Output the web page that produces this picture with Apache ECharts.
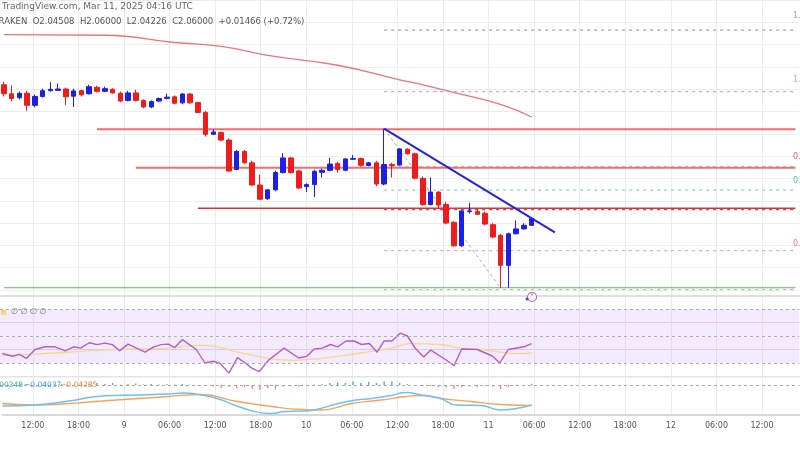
<!DOCTYPE html>
<html><head><meta charset="utf-8">
<script src="https://cdn.jsdelivr.net/npm/echarts@6/dist/echarts.min.js"></script>
<style>html,body{margin:0;padding:0;background:#fff}#c{width:800px;height:450px}</style>
</head><body><div id="c"></div>
<script>
// ---- data ----
const opens = [2.1840,2.1759,2.1724,2.1764,2.1656,2.1735,2.1787,2.1790,2.1802,2.1738,
2.1787,2.1759,2.1816,2.1781,2.1799,2.1764,2.1700,2.1767,2.1700,2.1641,
2.1694,2.1717,2.1732,2.1678,2.1757,2.1680,2.1592,2.1396,2.1411,2.1344,
2.1081,2.1242,2.1140,2.0941,2.0819,2.0898,2.1053,2.1184,2.1067,2.0927,
2.0945,2.1055,2.1073,2.1134,2.1073,2.1172,2.1178,2.1116,2.1140,2.0950,
2.1125,2.1120,2.1263,2.1221,2.1000,2.0766,2.0878,2.0766,2.0606,2.0396,
2.0703,2.0703,2.0688,2.0586,2.0490,2.0221,2.0504,2.0548,2.0580];
const closes = [2.1759,2.1717,2.1764,2.1656,2.1735,2.1787,2.1799,2.1802,2.1732,2.1785,
2.1750,2.1823,2.1781,2.1805,2.1767,2.1694,2.1767,2.1700,2.1641,2.1689,
2.1717,2.1729,2.1674,2.1757,2.1678,2.1592,2.1396,2.1417,2.1344,2.1067,
2.1242,2.1140,2.0941,2.0814,2.0898,2.1053,2.1184,2.1053,2.0915,2.0945,
2.1064,2.1073,2.1129,2.1081,2.1175,2.1178,2.1118,2.1140,2.0950,2.1125,
2.1116,2.1265,2.1221,2.1003,2.0766,2.0878,2.0761,2.0600,2.0396,2.0709,
2.0709,2.0679,2.0591,2.0475,2.0221,2.0504,2.0548,2.0580,2.0639];
const lows = [2.1735,2.1691,2.1709,2.1606,2.1639,2.1726,2.1779,2.1787,2.1659,2.1641,
2.1735,2.1753,2.1770,2.1774,2.1761,2.1683,2.1691,2.1691,2.1630,2.1630,
2.1687,2.1709,2.1665,2.1665,2.1669,2.1586,2.1376,2.1389,2.1333,2.1057,
2.1074,2.1131,2.0934,2.0808,2.0808,2.0886,2.1044,2.1044,2.0904,2.0878,
2.0834,2.1009,2.1066,2.1053,2.1066,2.1166,2.1105,2.1109,2.0930,2.0939,
2.1009,2.1114,2.1214,2.0991,2.0755,2.0759,2.0729,2.0589,2.0388,2.0388,
2.0685,2.0672,2.0580,2.0466,2.0017,2.0020,2.0497,2.0541,2.0576];
const highs = [2.1866,2.1834,2.1779,2.1787,2.1753,2.1805,2.1864,2.1851,2.1814,2.1805,
2.1796,2.1840,2.1831,2.1823,2.1809,2.1779,2.1787,2.1796,2.1709,2.1700,
2.1726,2.1761,2.1744,2.1766,2.1766,2.1687,2.1604,2.1442,2.1420,2.1359,
2.1254,2.1254,2.1158,2.1035,2.0904,2.1070,2.1228,2.1193,2.1079,2.0956,
2.1079,2.1088,2.1184,2.1149,2.1184,2.1210,2.1188,2.1149,2.1158,2.1446,
2.1140,2.1271,2.1271,2.1232,2.1018,2.1009,2.0886,2.0790,2.0615,2.0720,
2.0781,2.0720,2.0703,2.0598,2.0502,2.0514,2.0624,2.0598,2.0650];
const maIdx = [0,13,22,28,34,43,51,54,59,64,68];
const maVals = [2.2289,2.2284,2.2219,2.2184,2.2103,2.2015,2.1884,2.1840,2.1753,2.1665,2.1551];
const rsiX = [0.3,1.6,2.5,3.4,4.5,5.8,7.1,8.4,9.5,10.4,11.5,12.5,13.5,14.5,15.4,16.5,17.6,18.7,19.8,20.8,21.7,22.5,23.5,24.4,25.3,26.4,27.5,28.4,29.5,30.6,31.6,32.5,33.4,34.6,36.6,38.5,39.5,40.5,41.5,42.6,43.5,44.6,45.6,46.6,47.6,48.6,49.5,50.5,51.6,52.5,53.5,54.6,55.5,57.5,58.5,59.5,61.5,63.5,64.4,65.5,67.5,68.5];
const rsiVals = [37,35,36.4,33.4,40,42,42,39,42,41,45,43.6,44.7,43.6,39,44,41,38,42,43.6,44,41.4,47.3,43.6,40,30,31.3,29.5,22.5,34,30,26,23.6,32,41,33.7,34.9,40.4,41,43.7,42,46.3,46.3,43.7,44.4,38,46.3,46.3,52.2,50,41,34.4,39.6,32.2,28,40.4,40,35,30,40,42,44.4];
const rsiMaX = [0.3,4.5,13.1,21.7,26,31.1,35,37.6,41.4,46.5,50.4,53,56.8,59.4,62,64.5,67.1,68.5];
const rsiMaVals = [35.5,36.5,39.5,41,43,37.5,33,32,33.5,37.4,41,44.4,43.7,41,40,38,37,37.4];
const macdX = [0.3,4.5,8.9,13.1,17.4,21.7,23.7,26,28.2,30.2,32.8,35,36.7,39.2,40.5,43.6,45.9,47.8,50.4,52.3,54.3,56.8,58.8,62,64.5,66.5,68.5];
const macdVals = [-0.042,-0.040,-0.032,-0.022,-0.020,-0.018,-0.016,-0.020,-0.028,-0.040,-0.053,-0.057,-0.053,-0.052,-0.050,-0.037,-0.030,-0.027,-0.021,-0.015,-0.020,-0.027,-0.040,-0.041,-0.050,-0.047,-0.040];
const signalX = [0.3,4.5,13.1,21.7,26,30.2,35,38.8,41.4,45.3,49.1,52.3,54.3,56.8,60.7,64.5,68.5];
const signalVals = [-0.037,-0.040,-0.032,-0.023,-0.019,-0.032,-0.043,-0.049,-0.050,-0.037,-0.030,-0.023,-0.021,-0.027,-0.033,-0.039,-0.041];
const histVals = [0.0005,0.0005,0.0005,0.0005,0.0005,0.0005,0.0005,0.0005,0.0005,0.0005,
0.003,0.002,0.004,0.002,0.004,0.001,0.002,0.003,0.001,0.002,
0.001,0.002,0.001,0.002,0.001,-0.001,-0.002,-0.003,-0.006,-0.004,
-0.006,-0.004,-0.008,-0.010,-0.006,-0.008,-0.003,-0.002,-0.003,-0.001,
0.001,0.002,0.004,0.005,0.004,0.007,0.004,0.006,0.004,0.007,
0.007,0.004,0.002,-0.001,-0.002,-0.002,-0.004,-0.005,-0.008,-0.004,
-0.003,-0.004,-0.002,-0.003,-0.008,-0.004,-0.002,-0.001,0.0025];
const hLines = [ // [startIndex, price, color, width]
  [12, 2.1442, '#f26d6d', 2],
  [17, 2.1096, '#f26d6d', 2],
  [25, 2.0733, '#e0303a', 1.5],
  [0, 2.0020, '#5cb85c', 1]];
const fibLines = [[2.2330,'#9a9af2','1.'],[2.1779,'#cf9ee8','1.'],[2.1105,'#f08a8a','0.'],[2.0895,'#7fdcc0','0.'],[2.0720,'#b05050',''],[2.0353,'#f4a6a6','0.'],[2.0003,'#bbbbbb','']];
const trendLine = [[49,2.1446],[71,2.0516]];
const diagLine = [[49,2.1446],[64,2.0017]];
const hourLabelsStart = 8; const hourCount = 106;
const header1 = 'TradingView.com, Mar 11, 2025 04:16 UTC';
const header2 = 'KRAKEN  O2.04508  H2.06000  L2.04226  C2.06000  +0.01466 (+0.72%)';

// ---- build ----
const N = 103;
const cats = Array.from({length:N},(_,i)=>String(i));
const hours = Array.from({length:hourCount},(_,i)=>{const h=hourLabelsStart+i;const d=8+Math.floor(h/24);const hh=h%24;return hh===0?String(d):(hh<10?'0':'')+hh+':00';});
const showH = (i)=>((hourLabelsStart+i)%6===0);
const candle = opens.map((o,i)=>[o,closes[i],lows[i],highs[i]]);
const series = [];
series.push({type:'candlestick',xAxisIndex:0,yAxisIndex:0,data:candle,barWidth:5,
  itemStyle:{color:'#1e1ee6',color0:'#ee1c1c',borderColor:'#1e1ee6',borderColor0:'#ee1c1c',borderWidth:1},z:5});
series.push({type:'line',xAxisIndex:0,yAxisIndex:0,data:maIdx.map((x,i)=>[x,maVals[i]]),smooth:true,symbol:'none',lineStyle:{color:'#f07474',width:1.3}});
hLines.forEach(h=>series.push({type:'line',xAxisIndex:0,yAxisIndex:0,data:[[h[0],h[1]],[N-1,h[1]]],symbol:'none',lineStyle:{color:h[2],width:h[3]},z:3}));
fibLines.forEach(f=>series.push({type:'line',xAxisIndex:0,yAxisIndex:0,data:[[49,f[0]],[N-1,f[0]]],symbol:'none',lineStyle:{color:f[1],width:1.2,type:[3,4]},z:2}));
series.push({type:'line',xAxisIndex:0,yAxisIndex:0,data:trendLine,symbol:'none',lineStyle:{color:'#2323e0',width:2},z:6});
series.push({type:'line',xAxisIndex:0,yAxisIndex:0,data:diagLine,symbol:'none',lineStyle:{color:'#aaaaaa',width:1,type:[3,3]},z:2});
// RSI
series.push({type:'line',xAxisIndex:1,yAxisIndex:1,data:rsiMaX.map((x,i)=>[x,rsiMaVals[i]]),smooth:true,symbol:'none',lineStyle:{color:'#f6d88a',width:1.3},
  markArea:{silent:true,itemStyle:{color:'rgba(200,150,245,0.2)'},data:[[{yAxis:30},{yAxis:70}]]},
  markLine:{silent:true,symbol:'none',label:{show:false},lineStyle:{color:'#b0b0b0',type:[3,3],width:1},data:[{yAxis:30},{yAxis:50},{yAxis:70}]}});
series.push({type:'line',xAxisIndex:1,yAxisIndex:1,data:rsiX.map((x,i)=>[x,rsiVals[i]]),symbol:'none',lineStyle:{color:'#b35fc4',width:1.4},z:4});
// MACD
series.push({type:'bar',xAxisIndex:2,yAxisIndex:2,data:histVals.map((v,i)=>({value:[i+0.5,v],itemStyle:{color:v>=0?'#3fb39f':'#f07c7c'}})),barWidth:1.3,
  markLine:{silent:true,symbol:'none',label:{show:false},lineStyle:{color:'#aaaaaa',type:[3,3],width:1},data:[{yAxis:0}]}});
series.push({type:'line',xAxisIndex:2,yAxisIndex:2,data:signalX.map((x,i)=>[x,signalVals[i]]),smooth:true,symbol:'none',lineStyle:{color:'#f7a25c',width:1.3}});
series.push({type:'line',xAxisIndex:2,yAxisIndex:2,data:macdX.map((x,i)=>[x,macdVals[i]]),smooth:true,symbol:'none',lineStyle:{color:'#6ec0f5',width:1.5}});

const gx = {left:-2.2,width:801.5};
const hideX = {show:true,axisLine:{show:false},axisTick:{show:false},axisLabel:{show:false},splitLine:{show:false}};
const txt = (x,y,t,c,s)=>({type:'text',left:x,top:y,style:{text:t,fill:c,font:(s||9)+'px "DejaVu Sans", sans-serif'},z:100});
const chart = echarts.init(document.getElementById('c'),null,{renderer:'canvas'});
chart.setOption({
  animation:false,backgroundColor:'#fff',
  grid:[{left:gx.left,width:gx.width,top:-6.8,height:296.8},
        {left:gx.left,width:gx.width,top:295.5,height:81},
        {left:gx.left,width:gx.width,top:377,height:38},
        {left:2.5,width:801.5,top:0,height:415}],
  xAxis:[Object.assign({type:'category',data:cats,gridIndex:0,boundaryGap:true},hideX),
         Object.assign({type:'value',min:0,max:N,gridIndex:1},hideX),
         Object.assign({type:'value',min:0,max:N,gridIndex:2},hideX),
         {type:'category',data:hours,gridIndex:3,boundaryGap:false,
          axisLine:{show:true,lineStyle:{color:'#cccccc',width:1.5}},axisTick:{show:false},
          axisLabel:{interval:showH,color:'#555',fontSize:8,margin:7,fontFamily:'DejaVu Sans'},
          splitLine:{show:true,interval:showH,lineStyle:{color:'#ececec',width:1}}}],
  yAxis:[{type:'value',gridIndex:0,min:2.0,max:2.26,interval:0.02,axisLabel:{show:false},axisLine:{show:false},axisTick:{show:false},splitLine:{lineStyle:{color:'#ededed'}}},
         {type:'value',gridIndex:1,min:20,max:80,interval:20,axisLabel:{show:false},axisLine:{show:false},axisTick:{show:false},splitLine:{lineStyle:{color:'#e2d8ea'}}},
         {type:'value',gridIndex:2,min:-0.06,max:0.016,axisLabel:{show:false},axisLine:{show:false},axisTick:{show:false},splitLine:{show:false}},
         {type:'value',gridIndex:3,show:false}],
  series:series,
  graphic:[
    {type:'rect',shape:{x:0,y:295,width:800,height:2},style:{fill:'#dedede'},z:50},
    {type:'rect',shape:{x:0,y:376,width:800,height:1.5},style:{fill:'#e3e3e3'},z:50},
    txt(2,2,header1,'#666',9),
    txt(-7,17,header2,'#555',8.5),
    txt(793,12,fibLines[0][2],fibLines[0][1],8),
    txt(793,76,fibLines[1][2],fibLines[1][1],8),
    txt(793,153,fibLines[2][2],'#e06060',8),
    txt(793,177,fibLines[3][2],'#4fbf9a',8),
    txt(793,240,fibLines[5][2],'#e88080',8),
    {type:'rect',shape:{x:1,y:310,width:5,height:5},style:{fill:'#f5d77a'},z:100},
    txt(11,308,'∅ ∅ ∅ ∅','#777',8),
    txt(-8,381,'0.00248','#3cb39a',7.5),
    txt(24,381,'−0.04037','#3aa0f0',7.5),
    txt(60,381,'−0.04285','#f08a3c',7.5),
    {type:'circle',shape:{cx:532,cy:297,r:4.5},style:{fill:'#fff',stroke:'#b25fd0',lineWidth:1.2},z:100},
    txt(529.5,292,'⚡','#b25fd0',7),
    {type:'circle',shape:{cx:527,cy:299,r:1.5},style:{fill:'#4444ee'},z:101}
  ]
});
</script></body></html>
